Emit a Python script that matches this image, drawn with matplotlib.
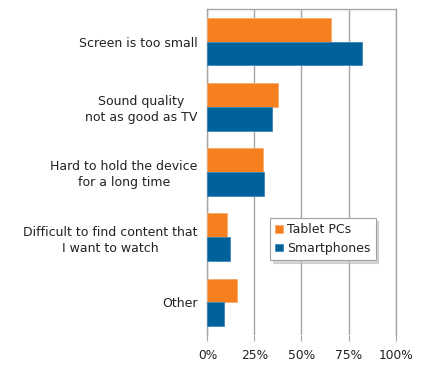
import matplotlib
matplotlib.use("Agg")
import matplotlib.pyplot as plt
import numpy as np

categories = ["Screen is too small",
              "Sound quality\nnot as good as TV",
              "Hard to hold the device\nfor a long time",
              "Difficult to find content that\nI want to watch",
              "Other"]
tablet = [65.5, 37.4, 29.4, 10.6, 15.6]
phone = [82.0, 34.5, 29.9, 12.0, 8.7]
series_names = ["Tablet PCs", "Smartphones"]
xticks = [0, 25, 50, 75, 100]
xticklabels = ["0%", "25%", "50%", "75%", "100%"]

orange = "#F6801F"
blue = "#00629B"
grid_c = "#A6A6A6"

fig = plt.figure(figsize=(4.46, 3.70), dpi=100)
ax = fig.add_axes([0.465, 0.0946, 0.887 - 0.465, 0.9757 - 0.0946])

y = np.arange(len(categories))
h = 0.365
ax.barh(y - h / 2, tablet, height=h, color=orange, edgecolor="#FBA86A", linewidth=0.6, label=series_names[0], zorder=3)
ax.barh(y + h / 2, phone, height=h, color=blue, edgecolor="#3F86B8", linewidth=0.6, label=series_names[1], zorder=3)

ax.set_ylim(len(categories) - 0.5, -0.5)
ax.set_xlim(0, 100)
ax.set_yticks(y)
ax.set_yticklabels(categories, fontsize=9, color="#222222", multialignment="center", linespacing=1.3)
ax.tick_params(axis="y", length=0, pad=7)
ax.set_xticks(xticks)
ax.set_xticklabels(xticklabels, fontsize=8.8, color="#222222")
ax.tick_params(axis="x", length=4, color=grid_c, pad=6)

ax.grid(axis="x", color=grid_c, linewidth=1.0, zorder=0)
for s in ["top", "right", "left"]:
    ax.spines[s].set_color(grid_c)
    ax.spines[s].set_linewidth(1.0)
ax.spines["bottom"].set_visible(False)

leg = ax.legend(loc="upper left", bbox_to_anchor=(0.335, 0.358), fontsize=9,
                frameon=True, fancybox=False,
                shadow={"color": "#BBBBBB", "alpha": 0.6},
                handlelength=0.6, handleheight=0.6, handletextpad=0.35,
                borderpad=0.4, labelspacing=0.45, borderaxespad=0,
                edgecolor="#A0A0A0")
leg.get_frame().set_linewidth(0.8)
for t in leg.get_texts():
    t.set_color("#222222")

fig.savefig("out.png", dpi=100)
